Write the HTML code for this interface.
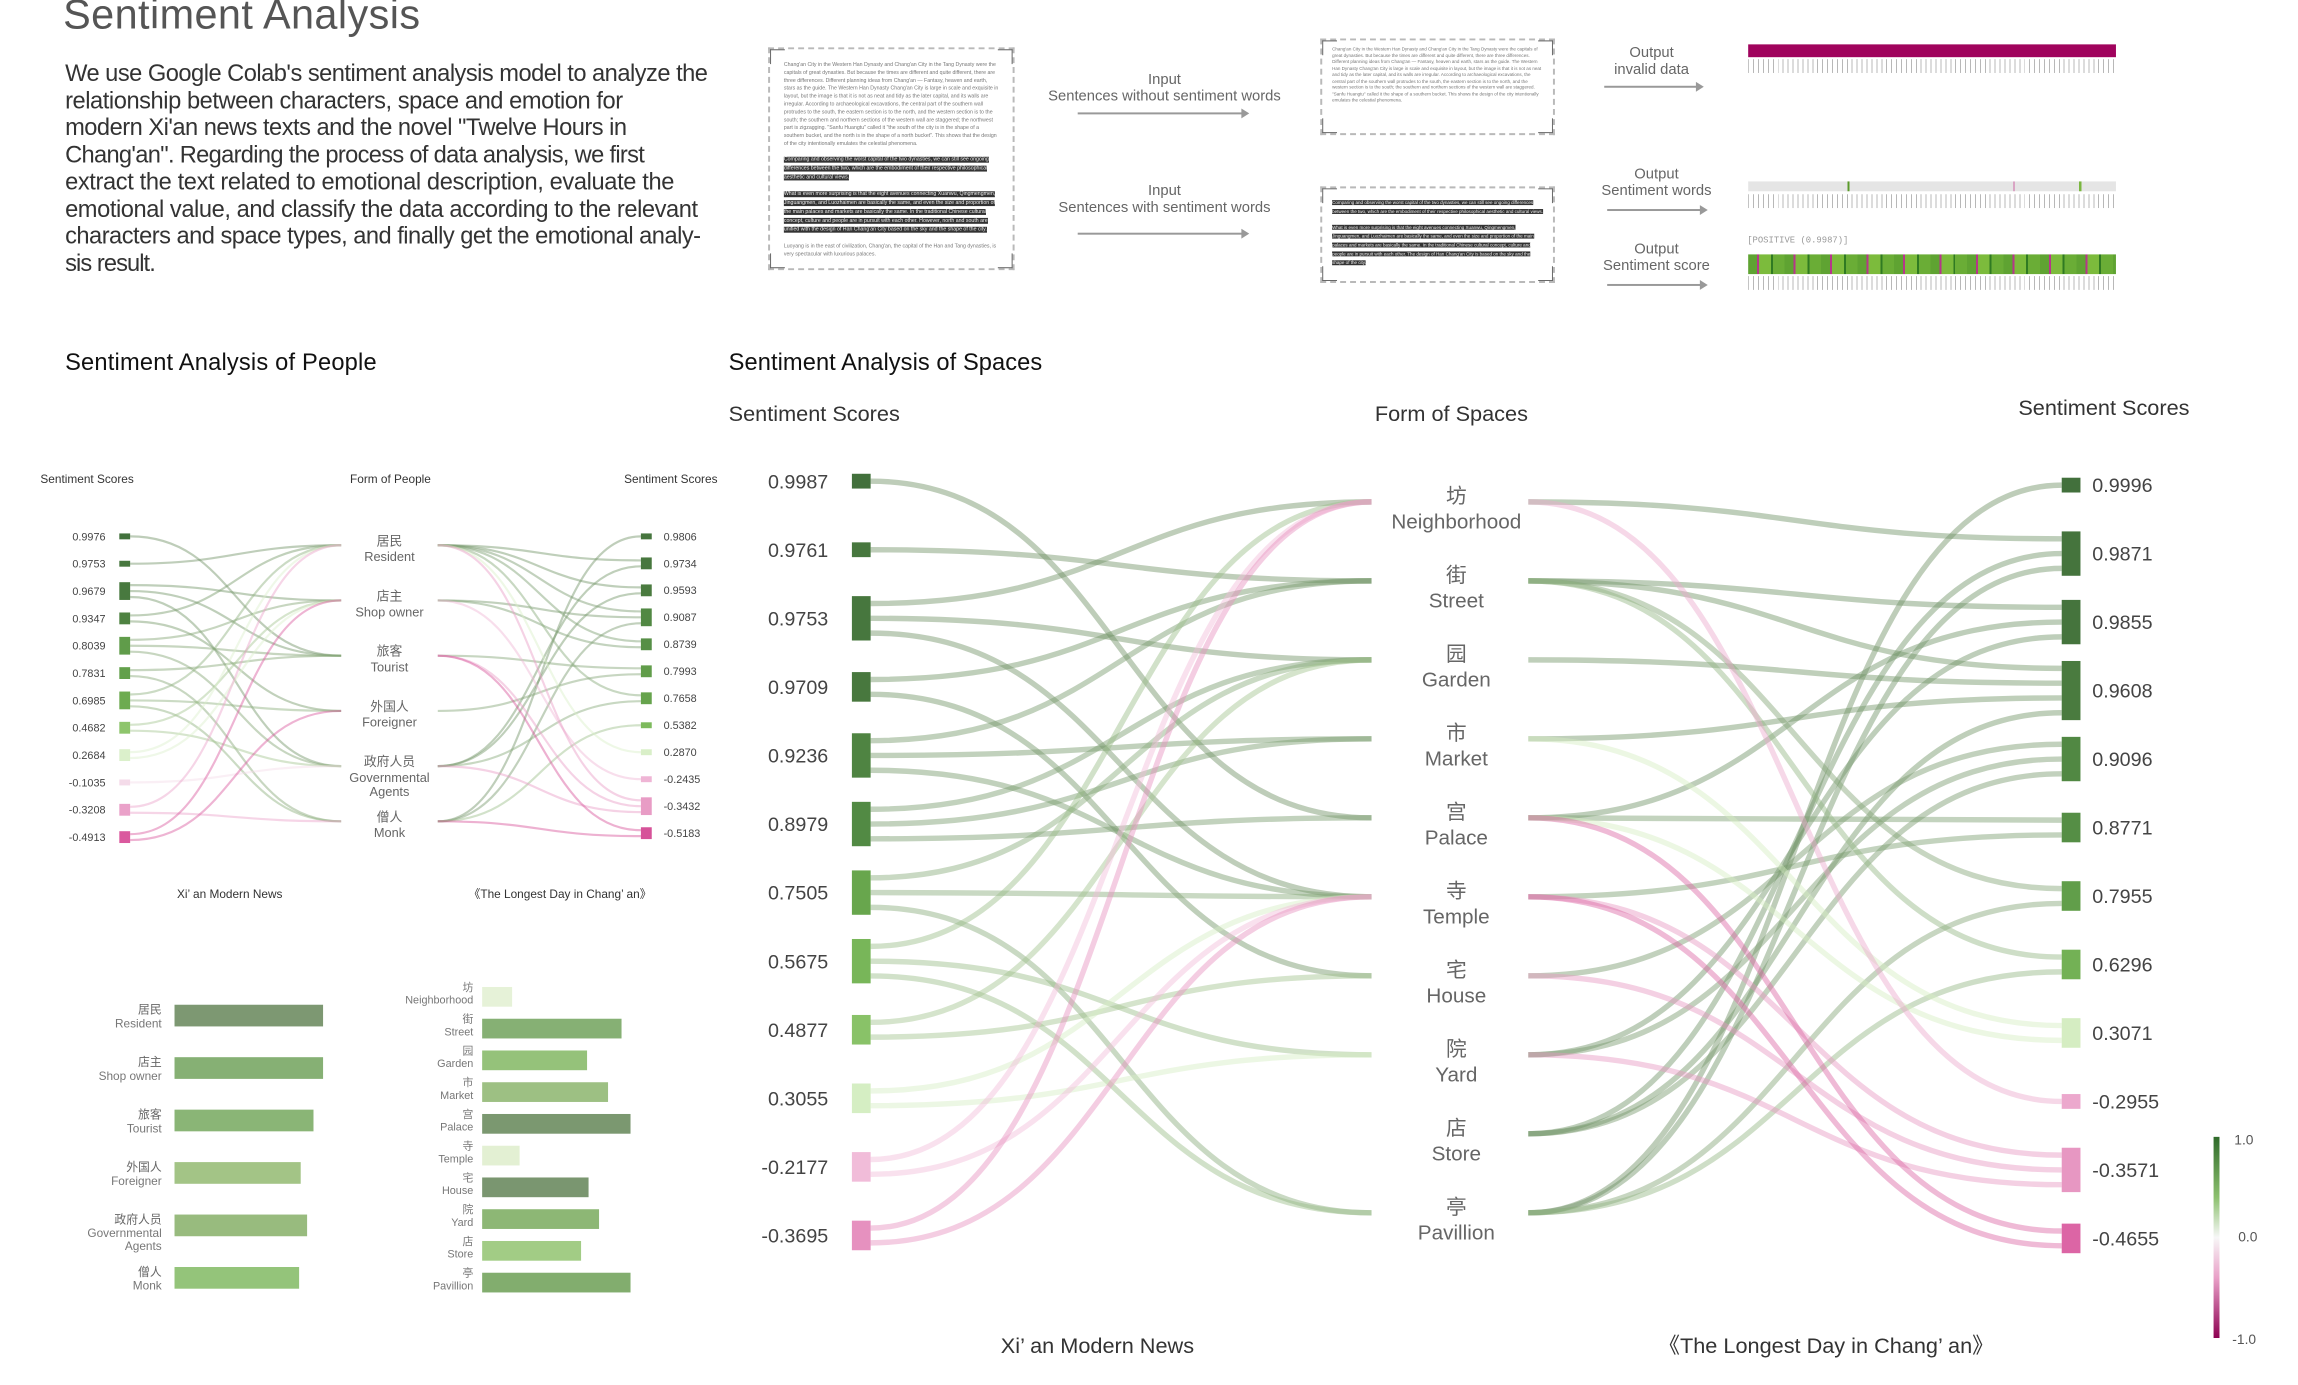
<!DOCTYPE html>
<html><head><meta charset="utf-8">
<style>
html,body{margin:0;padding:0;background:#fff;}
body{width:2298px;height:1385px;position:relative;overflow:hidden;font-family:"Liberation Sans","Noto Sans CJK SC",sans-serif;}
#wrap{position:absolute;left:0;top:0;width:2298px;height:1385px;transform:scale(0.986);transform-origin:0 0;}
.doc{position:absolute;box-sizing:border-box;border:2px dashed #b9b9b9;padding:12px 14px;font-size:5.3px;line-height:8px;color:#777;overflow:hidden;}
.doc .c{position:absolute;width:14px;height:14px;border-color:#666;border-style:solid;}
.hl{background:#333;color:#eee;display:inline;line-height:9px;}
.flab{position:absolute;text-align:center;font-size:15px;line-height:17px;color:#666;}
.arrow{position:absolute;height:2px;background:#999;}
.arrow:after{content:"";position:absolute;right:-2px;top:-4px;border-left:8px solid #999;border-top:5px solid transparent;border-bottom:5px solid transparent;}
.outbar{position:absolute;}
.ticks{position:absolute;height:14px;background:repeating-linear-gradient(90deg,#999 0 1px,transparent 1px 5px);opacity:.7;}
</style></head>
<body>
<div id="wrap">
<div class="doc" style="left:779px;top:48px;width:250px;height:226px;">
Chang'an City in the Western Han Dynasty and Chang'an City in the Tang Dynasty were the capitals of great dynasties. But because the times are different and quite different, there are three differences. Different planning ideas from Chang'an — Fantasy, heaven and earth, stars as the guide. The Western Han Dynasty Chang'an City is large in scale and exquisite in layout, but the image is that it is not as neat and tidy as the later capital, and its walls are irregular. According to archaeological excavations, the central part of the southern wall protrudes to the south, the eastern section is to the north, and the western section is to the south; the southern and northern sections of the western wall are staggered; the northwest part is zigzagging. "Sanfu Huangtu" called it "the south of the city is in the shape of a southern bucket, and the north is in the shape of a north bucket". This shows that the design of the city intentionally emulates the celestial phenomena.<br><br>
<span class="hl">Comparing and observing the worst capital of the two dynasties, we can still see ongoing differences between the two, which are the embodiment of their respective philosophical aesthetic and cultural views.</span><br><br>
<span class="hl">What is even more surprising is that the eight avenues connecting Xuanwu, Qingmengmen, Jinguangmen, and Luozhaimen are basically the same, and even the size and proportion of the main palaces and markets are basically the same. In the traditional Chinese cultural concept, culture and people are in pursuit with each other. However, north and south are unified with the design of Han Chang'an City based on the sky and the shape of the city.</span><br><br>
Luoyang is in the east of civilization, Chang'an, the capital of the Han and Tang dynasties, is very spectacular with luxurious palaces.
<div class="c" style="left:-2px;top:-2px;border-width:3px 0 0 3px"></div><div class="c" style="right:-2px;top:-2px;border-width:3px 3px 0 0"></div><div class="c" style="left:-2px;bottom:-2px;border-width:0 0 3px 3px"></div><div class="c" style="right:-2px;bottom:-2px;border-width:0 3px 3px 0"></div>
</div>
<div class="doc" style="left:1339px;top:39px;width:238px;height:98px;padding:6px 10px;font-size:4.6px;line-height:6.5px;">
Chang'an City in the Western Han Dynasty and Chang'an City in the Tang Dynasty were the capitals of great dynasties. But because the times are different and quite different, there are three differences. Different planning ideas from Chang'an — Fantasy, heaven and earth, stars as the guide. The Western Han Dynasty Chang'an City is large in scale and exquisite in layout, but the image is that it is not as neat and tidy as the later capital, and its walls are irregular. According to archaeological excavations, the central part of the southern wall protrudes to the south, the eastern section is to the north, and the western section is to the south; the southern and northern sections of the western wall are staggered. "Sanfu Huangtu" called it the shape of a southern bucket. This shows the design of the city intentionally emulates the celestial phenomena.
<div class="c" style="left:-2px;top:-2px;border-width:3px 0 0 3px"></div><div class="c" style="right:-2px;top:-2px;border-width:3px 3px 0 0"></div><div class="c" style="left:-2px;bottom:-2px;border-width:0 0 3px 3px"></div><div class="c" style="right:-2px;bottom:-2px;border-width:0 3px 3px 0"></div>
</div>
<div class="doc" style="left:1339px;top:189px;width:238px;height:98px;padding:10px 10px;font-size:4.6px;line-height:7px;">
<span class="hl">Comparing and observing the worst capital of the two dynasties, we can still see ongoing differences between the two, which are the embodiment of their respective philosophical aesthetic and cultural views.</span><br><br>
<span class="hl">What is even more surprising is that the eight avenues connecting Xuanwu, Qingmengmen, Jinguangmen, and Luozhaimen are basically the same, and even the size and proportion of the main palaces and markets are basically the same. In the traditional Chinese cultural concept, culture and people are in pursuit with each other. The design of Han Chang'an City is based on the sky and the shape of the city.</span>
<div class="c" style="left:-2px;top:-2px;border-width:3px 0 0 3px"></div><div class="c" style="right:-2px;top:-2px;border-width:3px 3px 0 0"></div><div class="c" style="left:-2px;bottom:-2px;border-width:0 0 3px 3px"></div><div class="c" style="right:-2px;bottom:-2px;border-width:0 3px 3px 0"></div>
</div>

<div class="flab" style="left:1061px;top:72px;width:240px;">Input<br>Sentences without sentiment words</div>
<div class="arrow" style="left:1093px;top:114px;width:172px;"></div>
<div class="flab" style="left:1061px;top:185px;width:240px;">Input<br>Sentences with sentiment words</div>
<div class="arrow" style="left:1093px;top:236px;width:172px;"></div>
<div class="flab" style="left:1605px;top:45px;width:140px;">Output<br>invalid data</div>
<div class="arrow" style="left:1627px;top:87px;width:99px;"></div>
<div class="flab" style="left:1605px;top:168px;width:150px;">Output<br>Sentiment words</div>
<div class="arrow" style="left:1630px;top:212px;width:100px;"></div>
<div class="flab" style="left:1605px;top:244px;width:150px;">Output<br>Sentiment score</div>
<div class="arrow" style="left:1630px;top:288px;width:100px;"></div>

<div class="outbar" style="left:1773px;top:45px;width:373px;height:13px;background:#a0035d;"></div>
<div class="ticks" style="left:1773px;top:60px;width:373px;"></div>
<div class="outbar" style="left:1773px;top:184px;width:373px;height:10px;background:linear-gradient(90deg,#e5e5e5 0 27%,#5a9a2a 27% 27.5%,#e5e5e5 27.5% 72%,#d9a5c4 72% 72.5%,#e5e5e5 72.5% 90%,#7ab640 90% 90.6%,#e5e5e5 90.6%);"></div>
<div class="ticks" style="left:1773px;top:197px;width:373px;"></div>
<div class="outbar" style="left:1772px;top:239px;font-size:9px;color:#999;font-family:'Liberation Mono',monospace;">[POSITIVE (0.9987)]</div>
<div class="outbar" style="left:1773px;top:258px;width:373px;height:20px;background:repeating-linear-gradient(90deg,#5fa332 0 9px,#b6368a 9px 11px,#7cbb3c 11px 23px,#2f7a22 23px 25px,#6aad36 25px 37px);"></div>
<div class="ticks" style="left:1773px;top:280px;width:373px;"></div>

<svg id="main" width="2298" height="1385" style="position:absolute;left:0;top:0;" xmlns="http://www.w3.org/2000/svg" font-family="Liberation Sans, Noto Sans CJK SC, sans-serif">
<text x="64" y="29" font-size="42" fill="#555" textLength="362">Sentiment Analysis</text>
<g font-size="24" fill="#333">
<text x="66" y="82" textLength="652">We use Google Colab's sentiment analysis model to analyze the</text>
<text x="66" y="110" textLength="566">relationship between characters, space and emotion for</text>
<text x="66" y="137" textLength="570">modern Xi'an news texts and the novel "Twelve Hours in</text>
<text x="66" y="165" textLength="588">Chang'an". Regarding the process of data analysis, we first</text>
<text x="66" y="192" textLength="618">extract the text related to emotional description, evaluate the</text>
<text x="66" y="220" textLength="642">emotional value, and classify the data according to the relevant</text>
<text x="66" y="247" textLength="645">characters and space types, and finally get the emotional analy-</text>
<text x="66" y="275" textLength="92">sis result.</text>
</g>
<text x="66" y="375" font-size="24" fill="#111" textLength="316">Sentiment Analysis of People</text>
<text x="739" y="375" font-size="24" fill="#111" textLength="318">Sentiment Analysis of Spaces</text>

<g id="people"></g>
<g id="spaces"></g>
<g id="bars"></g>

<defs><linearGradient id="cbar" x1="0" y1="0" x2="0" y2="1">
<stop offset="0" stop-color="#2f6a2a"/><stop offset="0.3" stop-color="#8cc06e"/><stop offset="0.5" stop-color="#f7f7f7"/><stop offset="0.7" stop-color="#e9a0c8"/><stop offset="1" stop-color="#8e0152"/></linearGradient></defs>
<rect x="2245" y="1153" width="6" height="204" fill="url(#cbar)"/>
<g font-size="14" fill="#555">
<text x="2266" y="1161">1.0</text><text x="2270" y="1259">0.0</text><text x="2264" y="1363">-1.0</text></g>
</svg>
</div>

<script>
// ---------- Spaces sankey data ----------
const spaceCats = ["Neighborhood","Street","Garden","Market","Palace","Temple","House","Yard","Store","Pavillion"];
const spaceCatsCN = ["坊","街","园","市","宫","寺","宅","院","店","亭"];
const spaceLeftScores = [0.9987,0.9761,0.9753,0.9709,0.9236,0.8979,0.7505,0.5675,0.4877,0.3055,-0.2177,-0.3695];
const spaceRightScores = [0.9996,0.9871,0.9855,0.9608,0.9096,0.8771,0.7955,0.6296,0.3071,-0.2955,-0.3571,-0.4655];
const spaceLeftLinks = [[0,4],[1,1],[2,0],[2,2],[2,5],[3,1],[3,6],[4,1],[4,3],[4,5],[5,2],[5,3],[5,4],[6,2],[6,5],[6,9],[7,0],[7,7],[7,9],[8,2],[8,6],[9,5],[9,7],[10,0],[10,5],[11,0],[11,5]];
const spaceRightLinks = [[0,1],[0,9],[1,2],[1,3],[1,6],[1,7],[2,3],[3,3],[3,8],[4,2],[4,5],[4,8],[4,11],[5,5],[5,10],[5,11],[6,4],[6,10],[7,2],[7,4],[7,10],[8,1],[8,3],[8,4],[9,0],[9,1],[9,6],[9,7]];
// ---------- People sankey data ----------
const peopleCats = ["Resident","Shop owner","Tourist","Foreigner","Governmental|Agents","Monk"];
const peopleCatsCN = ["居民","店主","旅客","外国人","政府人员","僧人"];
const peopleLeftScores = [0.9976,0.9753,0.9679,0.9347,0.8039,0.7831,0.6985,0.4682,0.2684,-0.1035,-0.3208,-0.4913];
const peopleRightScores = [0.9806,0.9734,0.9593,0.9087,0.8739,0.7993,0.7658,0.5382,0.2870,-0.2435,-0.3432,-0.5183];
const peopleLeftLinks = [[0,2],[1,0],[2,1],[2,2],[2,4],[3,0],[3,3],[4,1],[4,2],[4,4],[5,2],[5,5],[6,0],[6,3],[6,5],[7,1],[7,4],[8,0],[8,1],[9,4],[10,0],[10,5],[11,1],[11,3]];
const peopleRightLinks = [[0,1],[0,2],[0,3],[0,4],[0,6],[0,8],[0,10],[1,3],[1,4],[1,9],[2,5],[2,10],[2,11],[3,5],[4,1],[4,2],[4,6],[4,10],[5,0],[5,3],[5,7],[5,11]];
// ---------- Bar chart data ----------
const peopleBarValues = [0.93,0.93,0.87,0.79,0.83,0.78];
const spaceBarValues = [0.20,0.93,0.70,0.84,0.99,0.25,0.71,0.78,0.66,0.99];
const peopleBarColors = ["#7d9872","#86b074","#8ab576","#a3c486","#98bb7e","#94c47a"];
const spaceBarColors = ["#e6f2d8","#86b074","#95c27a","#9dc083","#7b9870","#e3f0d3","#7a9670","#8db775","#a2cc85","#82ad6e"];

const NS="http://www.w3.org/2000/svg";
function mk(tag,attrs,parent){const e=document.createElementNS(NS,tag);for(const k in attrs)e.setAttribute(k,attrs[k]);parent.appendChild(e);return e;}
const stops=[[1.0,[66,112,60]],[0.95,[76,126,64]],[0.9,[82,138,68]],[0.75,[104,166,77]],[0.55,[122,184,90]],[0.45,[146,200,112]],[0.3,[216,239,198]],[0,[247,247,247]],[-0.2,[242,192,220]],[-0.35,[232,154,196]],[-0.5,[217,85,156]],[-1,[142,1,82]]];
function col(v){for(let i=0;i<stops.length-1;i++){const a=stops[i],b=stops[i+1];if(v<=a[0]&&v>=b[0]){const t=(a[0]-v)/(a[0]-b[0]);const c=a[1].map((x,j)=>Math.round(x+(b[1][j]-x)*t));return `rgb(${c})`;}}return "rgb(142,1,82)";}
function lcol(v){if(v>0.4){const t=Math.min(1,(v-0.4)/0.6);const a=[170,205,150],b=[110,145,100];return `rgb(${a.map((x,j)=>Math.round(x+(b[j]-x)*t))})`;}return col(v);}

function sankey(g,cfg){
  const nL=cfg.left.length,nR=cfg.right.length,nC=cfg.cats.length;
  const yL=i=>cfg.lTop+i*(cfg.lBot-cfg.lTop)/(nL-1);
  const yR=i=>cfg.rTop+i*(cfg.rBot-cfg.rTop)/(nR-1);
  const yC=i=>cfg.cTop+i*(cfg.cBot-cfg.cTop)/(nC-1);
  const cntL=new Array(nL).fill(0),cntR=new Array(nR).fill(0);
  cfg.lLinks.forEach(l=>cntL[l[0]]++);cfg.rLinks.forEach(l=>cntR[l[1]]++);
  const useL=new Array(nL).fill(0),useR=new Array(nR).fill(0);
  const lLinks=cfg.lLinks.slice().sort((a,b)=>a[0]-b[0]||a[1]-b[1]);
  const rLinks=cfg.rLinks.slice().sort((a,b)=>a[1]-b[1]||a[0]-b[0]);
  const lg=mk('g',{},g);
  
  
  lLinks.forEach(l=>{
    const h=cntL[l[0]]*cfg.per;const y0=yL(l[0])-h/2+(useL[l[0]]++ +0.5)*cfg.per;
    const x0=cfg.lx+cfg.nw,x1=cfg.cx0,y1=yC(l[1]),mx=(x0+x1)/2;
    const p=mk('path',{d:`M${x0},${y0}C${mx},${y0} ${mx},${y1} ${x1},${y1}`,fill:'none',stroke:lcol(cfg.left[l[0]]),'stroke-width':cfg.sw,'stroke-opacity':0.45},lg);
    
    
  });
  rLinks.forEach(l=>{
    const h=cntR[l[1]]*cfg.per;const y1=yR(l[1])-h/2+(useR[l[1]]++ +0.5)*cfg.per;
    const x0=cfg.cx1,y0=yC(l[0])+cfg.rOff,x1=cfg.rx,mx=(x0+x1)/2;
    const p=mk('path',{d:`M${x0},${y0}C${mx},${y0} ${mx},${y1} ${x1},${y1}`,fill:'none',stroke:lcol(cfg.right[l[1]]),'stroke-width':cfg.sw,'stroke-opacity':0.45},lg);
    
    
  });
  cfg.left.forEach((v,i)=>{
    const h=Math.max(cntL[i],1)*cfg.per;
    const r=mk('rect',{x:cfg.lx,y:yL(i)-h/2,width:cfg.nw,height:h,fill:col(v)},g);
    
    
    const t=mk('text',{x:cfg.lLabX,y:yL(i)+cfg.fs*0.36,'font-size':cfg.fs,fill:'#444','text-anchor':'end'},g);t.textContent=v.toFixed(4);
    
    
  });
  cfg.right.forEach((v,i)=>{
    const h=Math.max(cntR[i],1)*cfg.per;
    const r=mk('rect',{x:cfg.rx,y:yR(i)-h/2,width:cfg.nw,height:h,fill:col(v)},g);
    
    
    const t=mk('text',{x:cfg.rLabX,y:yR(i)+cfg.fs*0.36,'font-size':cfg.fs,fill:'#444'},g);t.textContent=v.toFixed(4);
    
    
  });
  cfg.cats.forEach((c,i)=>{
    const y=yC(i);const cx=cfg.cLab;
    const t1=mk('text',{x:cx,y:y+cfg.cnOff,'font-size':cfg.cfs,fill:'#666','text-anchor':'middle'},g);t1.textContent=cfg.catsCN[i];
    
    
    c.split('|').forEach((s,k)=>{
      const t2=mk('text',{x:cx,y:y+cfg.enOff+k*cfg.cfs*1.1,'font-size':cfg.cfs,fill:'#666','text-anchor':'middle'},g);t2.textContent=s;
      
      
    });
  });
  cfg.heads.forEach(hd=>{
    const t=mk('text',{x:hd[0],y:hd[1],'font-size':hd[3],fill:'#333','text-anchor':hd[4]||'start'},g);t.textContent=hd[2];
    
    
  });
}

sankey(document.getElementById('spaces'),{name:'spaces',left:spaceLeftScores,right:spaceRightScores,cats:spaceCats,catsCN:spaceCatsCN,
  lLinks:spaceLeftLinks,rLinks:spaceRightLinks,lTop:488,lBot:1253,rTop:492,rBot:1256,cTop:509,cBot:1230,
  lx:864,rx:2091,nw:19,cx0:1391,cx1:1550,rOff:0,per:15,sw:5.5,fs:20,lLabX:840,rLabX:2122,cLab:1477,cfs:21,cnOff:1,enOff:27,
  heads:[[739,427,'Sentiment Scores',22],[1472,427,'Form of Spaces',22,'middle'],[2047,421,'Sentiment Scores',22],
         [1113,1372,'Xi’  an Modern News',22,'middle'],[1852,1372,'《The Longest Day in Chang’  an》',22,'middle']]});

sankey(document.getElementById('people'),{name:'people',left:peopleLeftScores,right:peopleRightScores,cats:peopleCats,catsCN:peopleCatsCN,
  lLinks:peopleLeftLinks,rLinks:peopleRightLinks,lTop:544,lBot:849,rTop:544,rBot:845,cTop:553,cBot:833,
  lx:121,rx:650,nw:11,cx0:346,cx1:444,rOff:0,per:6,sw:2.2,fs:11,lLabX:107,rLabX:673,cLab:395,cfs:13,cnOff:0,enOff:16,
  heads:[[41,490,'Sentiment Scores',12],[396,490,'Form of People',12,'middle'],[633,490,'Sentiment Scores',12],
         [233,911,'Xi’  an Modern News',12,'middle'],[568,911,'《The Longest Day in Chang’  an》',12,'middle']]});

// ---------- bars ----------
(function(){
  const g=document.getElementById('bars');
  peopleBarValues.forEach((v,i)=>{
    const y=1019+i*53.2;
    const r=mk('rect',{x:177,y:y,width:v*162,height:22,fill:peopleBarColors[i]},g);
    
    
    const cats=peopleCats[i].split('|');
    const t=mk('text',{x:164,y:y+9,'font-size':12,fill:'#666','text-anchor':'end'},g);t.textContent=peopleCatsCN[i];
    
    
    cats.forEach((s,k)=>{const t2=mk('text',{x:164,y:y+23+k*13,'font-size':12,fill:'#777','text-anchor':'end'},g);t2.textContent=s;
      
      });
  });
  spaceBarValues.forEach((v,i)=>{
    const y=1001+i*32.2;
    const r=mk('rect',{x:489,y:y,width:v*152,height:20,fill:spaceBarColors[i]},g);
    
    
    const t=mk('text',{x:480,y:y+4,'font-size':11,fill:'#777','text-anchor':'end'},g);t.textContent=spaceCatsCN[i];
    
    
    const t2=mk('text',{x:480,y:y+17,'font-size':11,fill:'#777','text-anchor':'end'},g);t2.textContent=spaceCats[i];
    
    
  });
})();
</script>
</body></html>
